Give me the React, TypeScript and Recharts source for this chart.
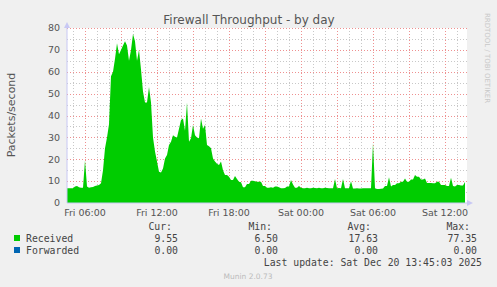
import { AreaChart, Area, XAxis, YAxis } from "recharts";

// Fri 04:30 -> Sat 13:50, one sample every 10 minutes
const STEP_MIN = 10;
const X_MAX = 2000;
const Y_MAX = 80;
const received = [
  6.7, 6.7, 6.8, 6.7, 7.5, 7.8, 7.2, 7.0, 7.0, 19.6,
  7.5, 7.0, 7.2, 7.3, 7.8, 8.0, 8.2, 9.0, 15, 25,
  30, 36, 58, 60, 66, 73, 68, 70, 72, 74,
  72, 65, 70, 77.3, 74, 65, 70, 61, 51, 46,
  46, 53, 46, 30, 23.5, 19, 14.3, 14, 15.8, 20.4,
  22, 26.5, 28, 31, 30.3, 30, 34, 38, 38.6, 33,
  46, 28, 29.6, 35.7, 31, 30, 29.6, 38.6, 34, 35.7,
  26.5, 26, 25, 20.4, 19, 18, 17.4, 19, 15, 12.8,
  12.8, 12, 10.5, 10.5, 12.3, 11, 9.7, 9.5, 7.2, 7.2,
  8.7, 8.7, 10.2, 10.2, 10.0, 9.7, 9.7, 9.7, 7.8, 7.8,
  7.0, 7.0, 7.2, 7.0, 7.6, 7.6, 7.2, 6.8, 6.8, 6.9,
  7.5, 7.5, 10.5, 8.5, 7.0, 7.0, 7.8, 7.0, 6.8, 6.8,
  7.0, 6.8, 6.8, 7.0, 6.9, 6.8, 7.0, 6.8, 6.8, 7.0,
  6.9, 6.8, 6.8, 6.8, 11, 6.8, 6.9, 6.8, 11, 6.8,
  6.8, 6.8, 10, 6.6, 6.6, 6.7, 6.6, 6.6, 6.8, 6.8,
  6.7, 6.8, 6.8, 27.4, 6.8, 6.4, 6.4, 6.5, 6.6, 7.8,
  7.8, 11.8, 7.5, 8.2, 8.2, 9, 9, 9.7, 9.7, 11.2,
  9.7, 9.7, 10.7, 10.7, 12.8, 12, 12, 10.7, 10.7, 11.2,
  9.2, 9.2, 9.2, 9, 9, 9.7, 9.7, 8.2, 8.2, 8.2,
  7.8, 7.8, 11.5, 7.8, 7.5, 8.2, 8.2, 8.0, 8.0, 9.55,
];

const xTicks = [90, 450, 810, 1170, 1530, 1890];
const xTickLabels = ["Fri 06:00", "Fri 12:00", "Fri 18:00", "Sat 00:00", "Sat 06:00", "Sat 12:00"];
const xMinor = [30, 150, 210, 330, 390, 510, 570, 690, 750, 870, 930, 1050, 1110, 1230, 1290, 1410, 1470, 1590, 1650, 1770, 1830, 1950];
const xMajor = [90, 270, 450, 630, 810, 990, 1170, 1350, 1530, 1710, 1890];
const yTicks = [0, 10, 20, 30, 40, 50, 60, 70, 80];
const yMinor = [5, 15, 25, 35, 45, 55, 65, 75];

const legendRows = [
  { name: "Received", color: "#00CC00", cur: "9.55", min: "6.50", avg: "17.63", max: "77.35" },
  { name: "Forwarded", color: "#0066B3", cur: "0.00", min: "0.00", avg: "0.00", max: "0.00" },
];

const data = received.map((v, i) => ({ t: i * STEP_MIN, received: v }));

const SANS = "'DejaVu Sans', Verdana, sans-serif";
const MONO = "'DejaVu Sans Mono', monospace";

// plot box
const W = 497;
const H = 287;
const M = { top: 28, right: 30, left: 67, bottom: 84 };
const PW = W - M.left - M.right;
const PH = H - M.top - M.bottom;
const gy = (v: number) => Math.round(M.top + PH * (1 - v / Y_MAX)) + 0.5;
const gx = (v: number) => Math.round(M.left + (PW * v) / X_MAX) + 0.5;

export default function App() {
  return (
    <div
      style={{
        position: "absolute",
        left: 0,
        top: 0,
        width: W,
        height: H,
        background: "#F0F0F0",
        overflow: "hidden",
      }}
    >
      {/* plot background + grid, under the chart */}
      <svg width={W} height={H} style={{ position: "absolute", left: 0, top: 0 }}>
        <rect x={M.left} y={M.top} width={PW} height={PH} fill="#fff" />
        <g stroke="#c8c8c8" strokeDasharray="1 2" strokeWidth={1}>
          {yMinor.map((v) => (
            <line key={`hy${v}`} x1={M.left} x2={M.left + PW} y1={gy(v)} y2={gy(v)} />
          ))}
          {xMinor.map((v) => (
            <line key={`vx${v}`} x1={gx(v)} x2={gx(v)} y1={M.top} y2={M.top + PH} />
          ))}
        </g>
        <g stroke="#ee9090" strokeDasharray="1 2" strokeWidth={1}>
          {yTicks.filter((v) => v > 0).map((v) => (
            <line key={`HY${v}`} x1={M.left} x2={M.left + PW} y1={gy(v)} y2={gy(v)} />
          ))}
          {xMajor.map((v) => (
            <line key={`VX${v}`} x1={gx(v)} x2={gx(v)} y1={M.top} y2={M.top + PH} />
          ))}
        </g>
      </svg>

      <div style={{ position: "absolute", left: 0, top: 0 }}>
        <AreaChart width={W} height={H} data={data} margin={{ top: M.top, right: M.right, left: 0, bottom: 0 }}>
          <XAxis
            dataKey="t"
            type="number"
            domain={[0, X_MAX]}
            ticks={xTicks}
            tickFormatter={(v) => xTickLabels[xTicks.indexOf(v)] ?? ""}
            interval={0}
            height={M.bottom}
            tickLine={false}
            tickMargin={0}
            axisLine={{ stroke: "#c8c8f4" }}
            tick={{ fill: "#555", fontSize: 9.5, fontFamily: SANS }}
          />
          <YAxis
            domain={[0, Y_MAX]}
            ticks={yTicks}
            interval={0}
            width={M.left}
            tickLine={false}
            tickMargin={1}
            axisLine={{ stroke: "#c8c8f4" }}
            tick={{ fill: "#555", fontSize: 9.5, fontFamily: SANS }}
          />
          <Area
            type="linear"
            dataKey="received"
            stroke="none"
            fill="#00CC00"
            fillOpacity={1}
            isAnimationActive={false}
          />
        </AreaChart>
      </div>

      <svg
        width={W}
        height={H}
        style={{ position: "absolute", left: 0, top: 0, pointerEvents: "none" }}
      >
        <polygon points="64,28 70,28 67,22" fill="#c8c8f4" />
        <polygon points="467,200 467,206 473,203" fill="#c8c8f4" />
        <text x={249} y={24} textAnchor="middle" fontFamily={SANS} fontSize={12} fill="#555">
          Firewall Throughput - by day
        </text>
        <text
          transform="translate(15,115) rotate(-90)"
          textAnchor="middle"
          fontFamily={SANS}
          fontSize={11}
          fill="#555"
        >
          Packets/second
        </text>
        <text
          transform="translate(485,58) rotate(90)"
          textAnchor="middle"
          fontFamily={SANS}
          fontSize={7}
          fill="#c8c8c8"
        >
          RRDTOOL / TOBI OETIKER
        </text>
        <g fontFamily={MONO} fontSize={9.8} fill="#444">
          <text x={172} y={230} textAnchor="end">Cur:</text>
          <text x={272} y={230} textAnchor="end">Min:</text>
          <text x={371} y={230} textAnchor="end">Avg:</text>
          <text x={470} y={230} textAnchor="end">Max:</text>
          {legendRows.map((r, i) => {
            const y = 242 + i * 12;
            return (
              <g key={r.name}>
                <rect x={14} y={y - 7} width={6} height={6} fill={r.color} />
                <text x={26} y={y}>{r.name}</text>
                <text x={178} y={y} textAnchor="end">{r.cur}</text>
                <text x={278} y={y} textAnchor="end">{r.min}</text>
                <text x={378} y={y} textAnchor="end">{r.avg}</text>
                <text x={477} y={y} textAnchor="end">{r.max}</text>
              </g>
            );
          })}
          <text x={482} y={266} textAnchor="end">Last update: Sat Dec 20 13:45:03 2025</text>
        </g>
        <text x={248} y={279} textAnchor="middle" fontFamily={SANS} fontSize={7.5} fill="#bbb">
          Munin 2.0.73
        </text>
      </svg>
    </div>
  );
}
